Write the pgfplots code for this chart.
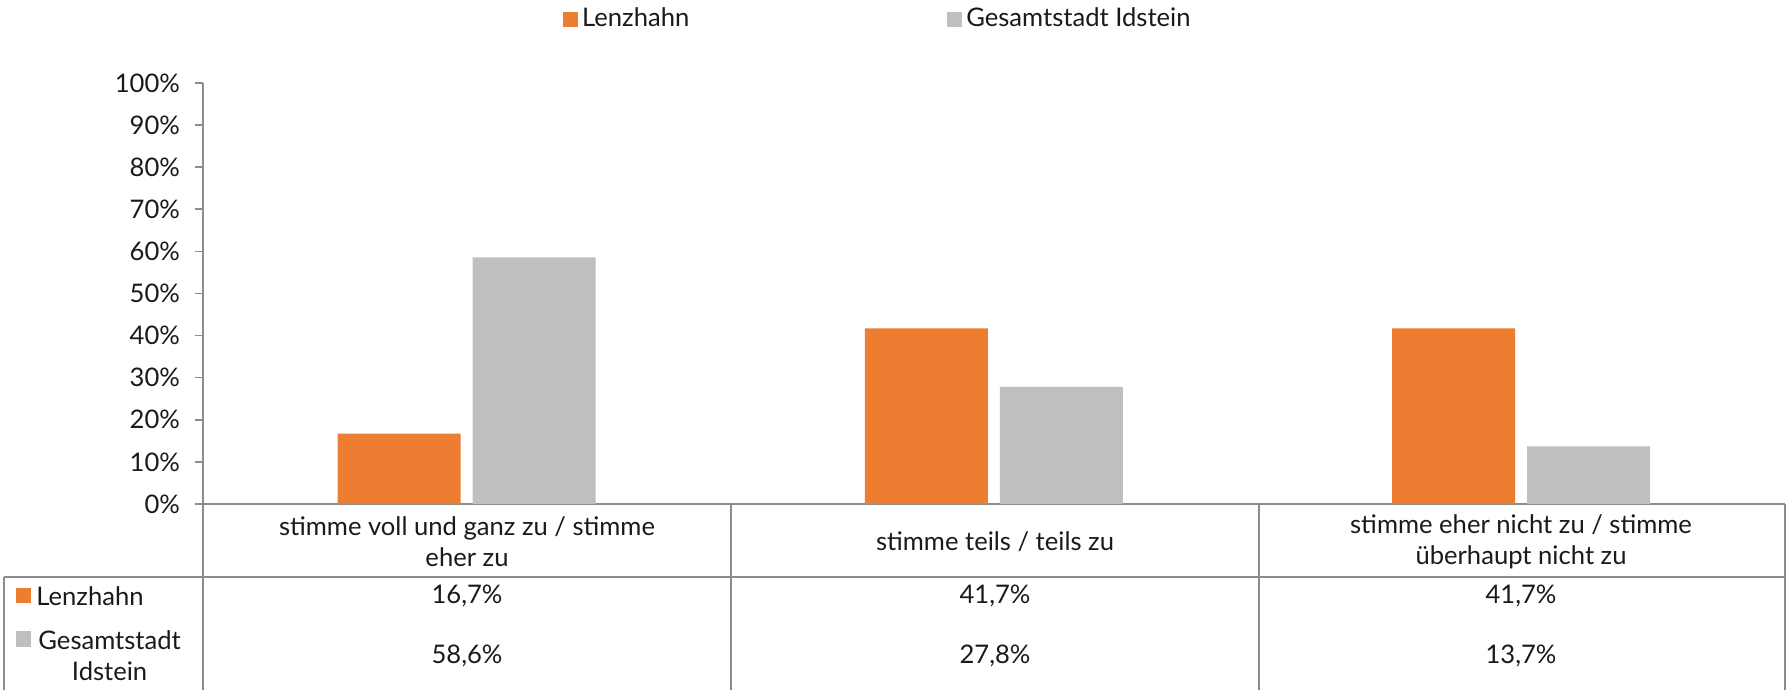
\documentclass[border=0pt]{standalone}
\usepackage{fontspec}
\setmainfont{Lato}
\usepackage{pgfplots}
\pgfplotsset{compat=1.18}
\definecolor{orng}{HTML}{ED7D31}
\definecolor{gry}{HTML}{BFBFBF}
\definecolor{axgray}{HTML}{8C8C8C}
\definecolor{txt}{HTML}{1A1A1A}
\begin{document}
\begin{tikzpicture}[x=1pt,y=1pt,font=\fontsize{12.8}{15.5}\selectfont]
\useasboundingbox (0,0) rectangle (893,345);
\begin{axis}[
  at={(101.5pt,93pt)}, anchor=south west, scale only axis,
  width=790.8pt, height=210.5pt,
  ybar=6pt, bar width=61.5pt,
  xmin=-0.5, xmax=2.5, ymin=0, ymax=100,
  axis lines*=left,
  axis line style={draw=axgray, line width=0.8pt, -},
  xtick=\empty,
  ytick={0,10,...,100},
  yticklabel={\pgfmathprintnumber{\tick}\%},
  /pgf/number format/assume math mode=true,
  ytick align=outside, major tick length=4pt,
  tick style={draw=axgray, line width=0.8pt},
  yticklabel style={text=txt, font=\fontsize{12.8}{15}\selectfont, xshift=-4pt},
  legend columns=2,
  legend style={draw=none, fill=none, inner sep=0pt, outer sep=0pt,
    at={(0.2277,1.152)}, anchor=west,
    font=\fontsize{12.8}{15}\selectfont, text=txt,
    nodes={inner sep=2pt},
    /tikz/every even column/.append style={column sep=127pt}},
  legend image code/.code={\fill[#1] (0pt,-3.75pt) rectangle (7.5pt,3.75pt);},
]
\addplot[fill=orng, draw=none] coordinates {(0,16.7) (1,41.7) (2,41.7)};
\addlegendentry{Lenzhahn}
\addplot[fill=gry, draw=none] coordinates {(0,58.6) (1,27.8) (2,13.7)};
\addlegendentry{Gesamtstadt Idstein}
\end{axis}
% data table
\begin{scope}[draw=axgray, line width=0.8pt]
\draw (101.5,93) -- (101.5,0);
\draw (365.5,93) -- (365.5,0);
\draw (629.5,93) -- (629.5,0);
\draw (892.4,93) -- (892.4,0);
\draw (2,56.5) -- (893,56.5);
\draw (2,56.5) -- (2,0);
\end{scope}
\begin{scope}[every node/.style={text=txt, align=center, inner sep=0pt}]
\node at (233.5,74) {stimme voll und ganz zu / stimme\\eher zu};
\node at (497.5,74) {stimme teils / teils zu};
\node at (760.5,74) {stimme eher nicht zu / stimme\\überhaupt nicht zu};
\node at (233.5,47) {16,7\%};
\node at (497.5,47) {41,7\%};
\node at (760.5,47) {41,7\%};
\node at (233.5,17) {58,6\%};
\node at (497.5,17) {27,8\%};
\node at (760.5,17) {13,7\%};
\fill[orng] (8,43.25) rectangle (15.5,50.75);
\node[anchor=west] at (18,47) {Lenzhahn};
\fill[gry] (8,21.75) rectangle (15.5,29.25);
\node[anchor=west, align=center] at (19,17) {Gesamtstadt\\Idstein};
\end{scope}
\end{tikzpicture}
\end{document}
